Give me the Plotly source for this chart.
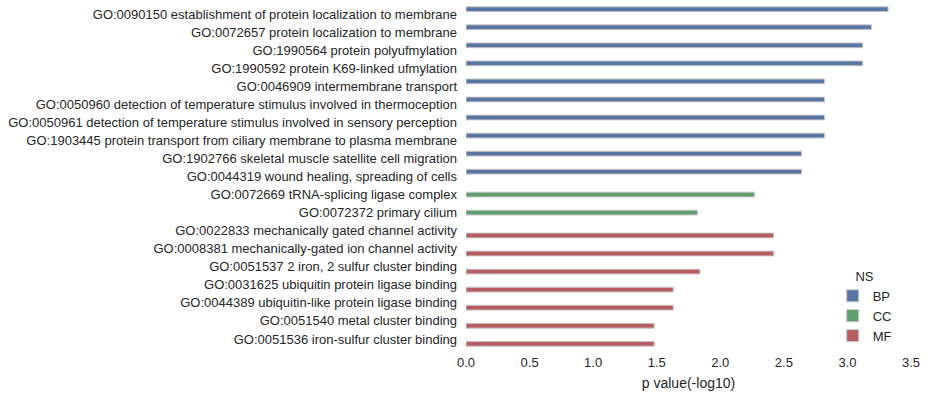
import plotly.graph_objects as go

terms = [
    "GO:0090150 establishment of protein localization to membrane",
    "GO:0072657 protein localization to membrane",
    "GO:1990564 protein polyufmylation",
    "GO:1990592 protein K69-linked ufmylation",
    "GO:0046909 intermembrane transport",
    "GO:0050960 detection of temperature stimulus involved in thermoception",
    "GO:0050961 detection of temperature stimulus involved in sensory perception",
    "GO:1903445 protein transport from ciliary membrane to plasma membrane",
    "GO:1902766 skeletal muscle satellite cell migration",
    "GO:0044319 wound healing, spreading of cells",
    "GO:0072669 tRNA-splicing ligase complex",
    "GO:0072372 primary cilium",
    "GO:0022833 mechanically gated channel activity",
    "GO:0008381 mechanically-gated ion channel activity",
    "GO:0051537 2 iron, 2 sulfur cluster binding",
    "GO:0031625 ubiquitin protein ligase binding",
    "GO:0044389 ubiquitin-like protein ligase binding",
    "GO:0051540 metal cluster binding",
    "GO:0051536 iron-sulfur cluster binding",
]
ns = ["BP"] * 10 + ["CC"] * 2 + ["MF"] * 7
pvals = [3.32, 3.19, 3.12, 3.12, 2.82, 2.82, 2.82, 2.82, 2.64, 2.64,
         2.27, 1.82,
         2.42, 2.42, 1.84, 1.63, 1.63, 1.48, 1.48]
groups = ["BP", "CC", "MF"]
colors = {"BP": "#5875A4", "CC": "#5F9E6E", "MF": "#B55D60"}
xticks = [0.0, 0.5, 1.0, 1.5, 2.0, 2.5, 3.0, 3.5]

fig = go.Figure()
for g in groups:
    xs = [v if n == g else None for v, n in zip(pvals, ns)]
    fig.add_trace(go.Bar(
        x=xs, y=terms, orientation="h", name=g,
        marker=dict(color=colors[g], line=dict(color="#c8c8c8", width=1)),
    ))

font_color = "#262626"
fig.update_layout(
    width=928, height=397,
    margin=dict(l=466, r=17, t=5, b=49, autoexpand=False),
    paper_bgcolor="white", plot_bgcolor="white",
    barmode="group", bargap=0.2, bargroupgap=0,
    font=dict(family="Liberation Sans, Arial, sans-serif", size=13, color=font_color),
    showlegend=True,
    legend=dict(
        x=0.824, y=0.245, xanchor="left", yanchor="top",
        title=dict(text="NS", side="top center", font=dict(size=13)),
        font=dict(size=13), bgcolor="rgba(0,0,0,0)", tracegroupgap=0,
    ),
    xaxis=dict(
        range=[0, 3.5], tickvals=xticks,
        ticktext=[f"{t:.1f}" for t in xticks],
        showgrid=False, zeroline=False, showline=False, ticks="",
        automargin=False, ticklabelstandoff=5,
        title=dict(text="p value(-log10)", font=dict(size=14), standoff=9),
        tickfont=dict(size=13),
    ),
    yaxis=dict(
        categoryorder="array", categoryarray=terms,
        autorange="reversed", showgrid=False, zeroline=False,
        showline=False, ticks="", tickfont=dict(size=13),
        ticklabelstandoff=8, automargin=False,
    ),
)

fig.write_html(
    "out.html",
    config={"displayModeBar": False},
    post_script="document.body.style.margin='0';document.body.style.padding='0';",
)
